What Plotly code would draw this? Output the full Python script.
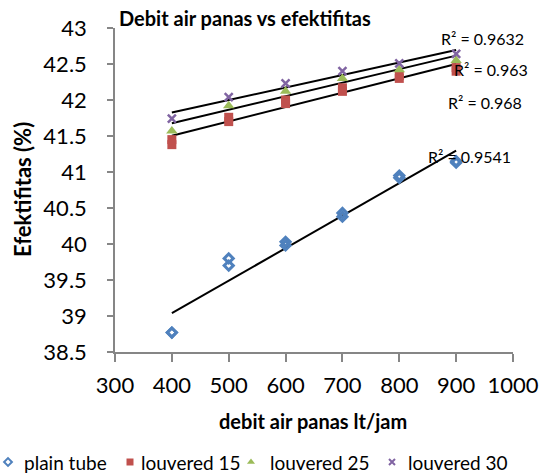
import numpy as np
import plotly.graph_objects as go

# ---- data ----
x_plain = [400, 400, 500, 500, 600, 600, 700, 700, 800, 800, 900, 900]
y_plain = [38.77, 38.77, 39.70, 39.80, 39.98, 40.03, 40.38, 40.43, 40.92, 40.95, 41.13, 41.15]

x_l15 = [400, 400, 500, 500, 600, 600, 700, 700, 800, 800, 900, 900]
y_l15 = [41.38, 41.45, 41.70, 41.76, 41.95, 42.00, 42.12, 42.17, 42.30, 42.34, 42.40, 42.45]

x_l25 = [400, 500, 600, 700, 800, 900]
y_l25 = [41.57, 41.92, 42.12, 42.30, 42.42, 42.55]

x_l30 = [400, 500, 600, 700, 800, 900]
y_l30 = [41.74, 42.04, 42.23, 42.40, 42.51, 42.64]

series_names = ["plain tube", "louvered 15", "louvered 25", "louvered 30"]

r2_labels = ["R² = 0.9632", "R² = 0.963", "R² = 0.968", "R² = 0.9541"]
r2_pos_x = [947, 961, 951, 924]
r2_pos_y = [42.86, 42.42, 41.97, 41.21]

x_ticks = [300, 400, 500, 600, 700, 800, 900, 1000]
y_ticks = [38.5, 39, 39.5, 40, 40.5, 41, 41.5, 42, 42.5, 43]
y_ticktext = ["38.5", "39", "39.5", "40", "40.5", "41", "41.5", "42", "42.5", "43"]

FONT = "Lato"
W, H = 543, 474
PL, PR, PT, PB = 115, 513, 28, 352   # plot-area pixel box

fig = go.Figure()

markers = [
    dict(symbol="diamond-open", size=7, color="#4F81BD", line=dict(width=3, color="#4F81BD")),
    dict(symbol="square", size=9, color="#C0504D"),
    dict(symbol="triangle-up", size=10, color="#9BBB59"),
    dict(symbol="x-thin-open", size=8, color="#8064A2", line=dict(width=2.5, color="#8064A2")),
]
leg_markers = [
    dict(symbol="diamond-open", size=6, color="#4F81BD", line=dict(width=2, color="#4F81BD")),
    dict(symbol="square", size=7, color="#C0504D"),
    dict(symbol="triangle-up", size=7, color="#9BBB59"),
    dict(symbol="x-thin-open", size=6, color="#8064A2", line=dict(width=2, color="#8064A2")),
]
data = [(x_plain, y_plain), (x_l15, y_l15), (x_l25, y_l25), (x_l30, y_l30)]

# trendlines (linear least-squares fit of each series)
for xs, ys in data:
    a, b = np.polyfit(xs, ys, 1)
    xl = np.array([min(xs), max(xs)])
    fig.add_trace(go.Scatter(x=xl, y=a * xl + b, mode="lines", xaxis="x", yaxis="y",
                             line=dict(color="black", width=2), showlegend=False,
                             hoverinfo="skip"))

for name, (xs, ys), mk in zip(series_names, data, markers):
    fig.add_trace(go.Scatter(x=xs, y=ys, mode="markers", name=name, marker=mk,
                             xaxis="x", yaxis="y", showlegend=False))

# manual legend on a full-page overlay axis (pixel units)
leg_sym_x = [8, 130, 251, 392]
leg_txt_x = [22, 139, 268, 406]
leg_y = 462
for name, mk, sx, tx in zip(series_names, leg_markers, leg_sym_x, leg_txt_x):
    fig.add_trace(go.Scatter(x=[sx], y=[leg_y], mode="markers", marker=mk,
                             xaxis="x2", yaxis="y2", showlegend=False, hoverinfo="skip"))
    fig.add_annotation(xref="paper", yref="paper", x=tx / W, y=1 - leg_y / H, text=name,
                       showarrow=False, xanchor="left", yanchor="middle",
                       font=dict(family=FONT, size=19, color="black"))

for t, xx, yy in zip(r2_labels, r2_pos_x, r2_pos_y):
    fig.add_annotation(x=xx, y=yy, xref="x", yref="y", text=t, showarrow=False,
                       xanchor="center", yanchor="middle",
                       font=dict(family=FONT, size=16, color="black"))

fig.add_annotation(xref="paper", yref="paper", x=117 / W, y=1 - 18 / H,
                   text="<b>Debit air panas vs efektifitas</b>",
                   showarrow=False, xanchor="left", yanchor="middle",
                   font=dict(family=FONT, size=20, color="black"))
fig.add_annotation(xref="paper", yref="paper", x=313 / W, y=1 - 421 / H,
                   text="<b>debit air panas lt/jam</b>",
                   showarrow=False, xanchor="center", yanchor="middle",
                   font=dict(family=FONT, size=20, color="black"))
fig.add_annotation(xref="paper", yref="paper", x=22 / W, y=1 - 190 / H,
                   text="<b>Efektifitas (%)</b>",
                   showarrow=False, xanchor="center", yanchor="middle", textangle=-90,
                   font=dict(family=FONT, size=22, color="black"))

axis_common = dict(showgrid=False, zeroline=False, showline=True, linecolor="#868686",
                   linewidth=1.5, ticks="outside", tickcolor="#868686", tickwidth=1.5,
                   tickfont=dict(family=FONT, size=22, color="black"))

fig.update_layout(
    width=W, height=H,
    margin=dict(l=0, r=0, t=0, b=0, autoexpand=False),
    paper_bgcolor="white", plot_bgcolor="rgba(0,0,0,0)",
    showlegend=False,
    xaxis=dict(domain=[PL / W, PR / W], range=[300, 1000], tickvals=x_ticks, ticklen=8,
               ticklabelstandoff=5, anchor="y", **axis_common),
    yaxis=dict(domain=[1 - PB / H, 1 - PT / H], range=[38.5, 43], tickvals=y_ticks,
               ticktext=y_ticktext, ticklen=6, ticklabelstandoff=16, anchor="x", **axis_common),
    xaxis2=dict(domain=[0, 1], range=[0, W], visible=False, anchor="y2", fixedrange=True),
    yaxis2=dict(domain=[0, 1], range=[H, 0], visible=False, anchor="x2", fixedrange=True),
)

fig.write_html("out.html", config={"displayModeBar": False},
               post_script="document.body.style.margin='0';document.body.style.padding='0';")
